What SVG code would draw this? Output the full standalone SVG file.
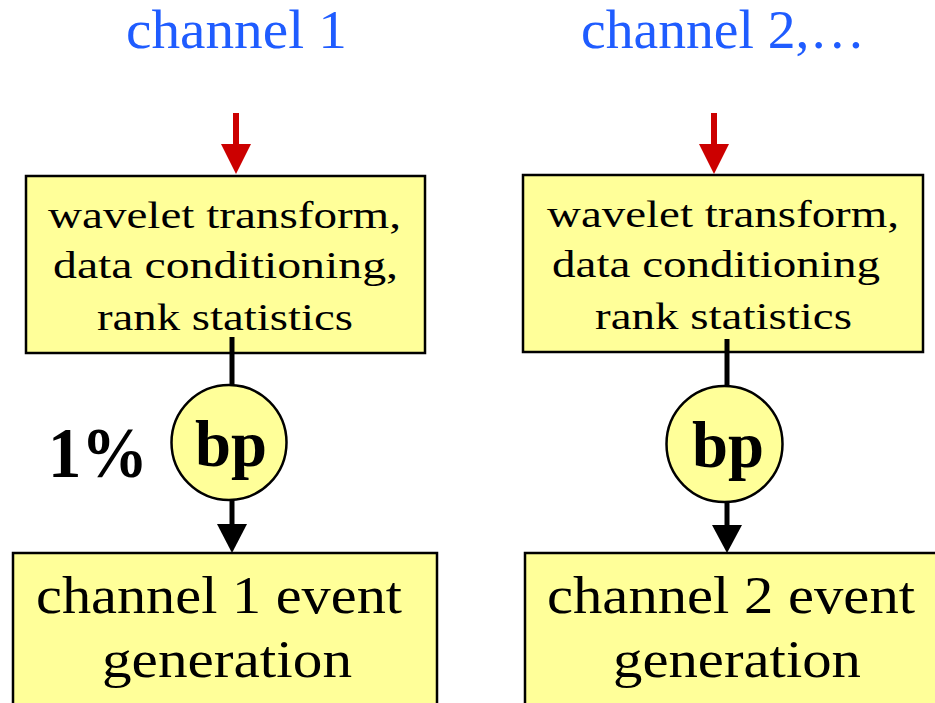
<svg xmlns="http://www.w3.org/2000/svg" width="935" height="703" viewBox="0 0 935 703">
  <style>
    .box { fill: #ffff99; stroke: #000; stroke-width: 2.5; }
    .txt { font-family: "Liberation Serif", "Times New Roman", serif; fill: #000; }
    .title { font-family: "Liberation Serif", "Times New Roman", serif; fill: #1f5cff; font-size: 55px; }
    .small { font-size: 38px; }
    .big { font-size: 52px; }
    .bold { font-weight: bold; }
    .wire { stroke: #000; stroke-width: 5; fill: none; }
    .redwire { stroke: #cc0000; stroke-width: 6; fill: none; }
    .head { fill: #000; }
    .redhead { fill: #cc0000; }
  </style>
  <rect width="935" height="703" fill="#fff"/>

  <g id="titles">
    <text class="title" x="126" y="48" textLength="221" lengthAdjust="spacingAndGlyphs">channel 1</text>
    <text class="title" x="581" y="48" textLength="284" lengthAdjust="spacingAndGlyphs">channel 2,…</text>
  </g>

  <g id="proc1">
    <rect class="box" x="26" y="176" width="399" height="177"/>
    <text class="txt small" x="48" y="228" textLength="353" lengthAdjust="spacingAndGlyphs">wavelet transform,</text>
    <text class="txt small" x="53" y="278" textLength="345" lengthAdjust="spacingAndGlyphs">data conditioning,</text>
    <text class="txt small" x="97" y="330" textLength="256" lengthAdjust="spacingAndGlyphs">rank statistics</text>
  </g>

  <g id="proc2">
    <rect class="box" x="523" y="175" width="400" height="177"/>
    <text class="txt small" x="547" y="227" textLength="352" lengthAdjust="spacingAndGlyphs">wavelet transform,</text>
    <text class="txt small" x="552" y="277" textLength="328" lengthAdjust="spacingAndGlyphs">data conditioning</text>
    <text class="txt small" x="595" y="329" textLength="257" lengthAdjust="spacingAndGlyphs">rank statistics</text>
  </g>

  <g id="event1">
    <rect class="box" x="13" y="553" width="424" height="160"/>
    <text class="txt big" x="36" y="613" textLength="366" lengthAdjust="spacingAndGlyphs">channel 1 event</text>
    <text class="txt big" x="102" y="677" textLength="250" lengthAdjust="spacingAndGlyphs">generation</text>
  </g>

  <g id="event2">
    <rect class="box" x="525" y="553" width="420" height="160"/>
    <text class="txt big" x="547" y="613" textLength="368" lengthAdjust="spacingAndGlyphs">channel 2 event</text>
    <text class="txt big" x="613" y="677" textLength="248" lengthAdjust="spacingAndGlyphs">generation</text>
  </g>

  <g id="connectors">
    <!-- red input arrows -->
    <line class="redwire" x1="236" y1="113" x2="236" y2="146"/>
    <polygon class="redhead" points="221,144 251,144 236,174"/>
    <line class="redwire" x1="714" y1="113" x2="714" y2="146"/>
    <polygon class="redhead" points="699,144 729,144 714,174"/>
    <!-- box to bp -->
    <line class="wire" x1="232" y1="337" x2="232" y2="387"/>
    <line class="wire" x1="727" y1="339" x2="727" y2="388"/>
    <!-- bp to event generation -->
    <line class="wire" x1="232" y1="498" x2="232" y2="527"/>
    <polygon class="head" points="217,524 247,524 232,553"/>
    <line class="wire" x1="727" y1="500" x2="727" y2="528"/>
    <polygon class="head" points="712,525 742,525 727,553"/>
  </g>

  <g id="bp1">
    <circle class="box" cx="229" cy="442.5" r="57.5"/>
    <text class="txt bold" x="195" y="466" font-size="66" textLength="72" lengthAdjust="spacingAndGlyphs">bp</text>
  </g>

  <g id="bp2">
    <circle class="box" cx="724.5" cy="444" r="58"/>
    <text class="txt bold" x="692" y="467" font-size="66" textLength="72" lengthAdjust="spacingAndGlyphs">bp</text>
  </g>

  <g id="rate-label">
    <text class="txt bold" x="48" y="477" font-size="72" textLength="100" lengthAdjust="spacingAndGlyphs">1%</text>
  </g>
</svg>
